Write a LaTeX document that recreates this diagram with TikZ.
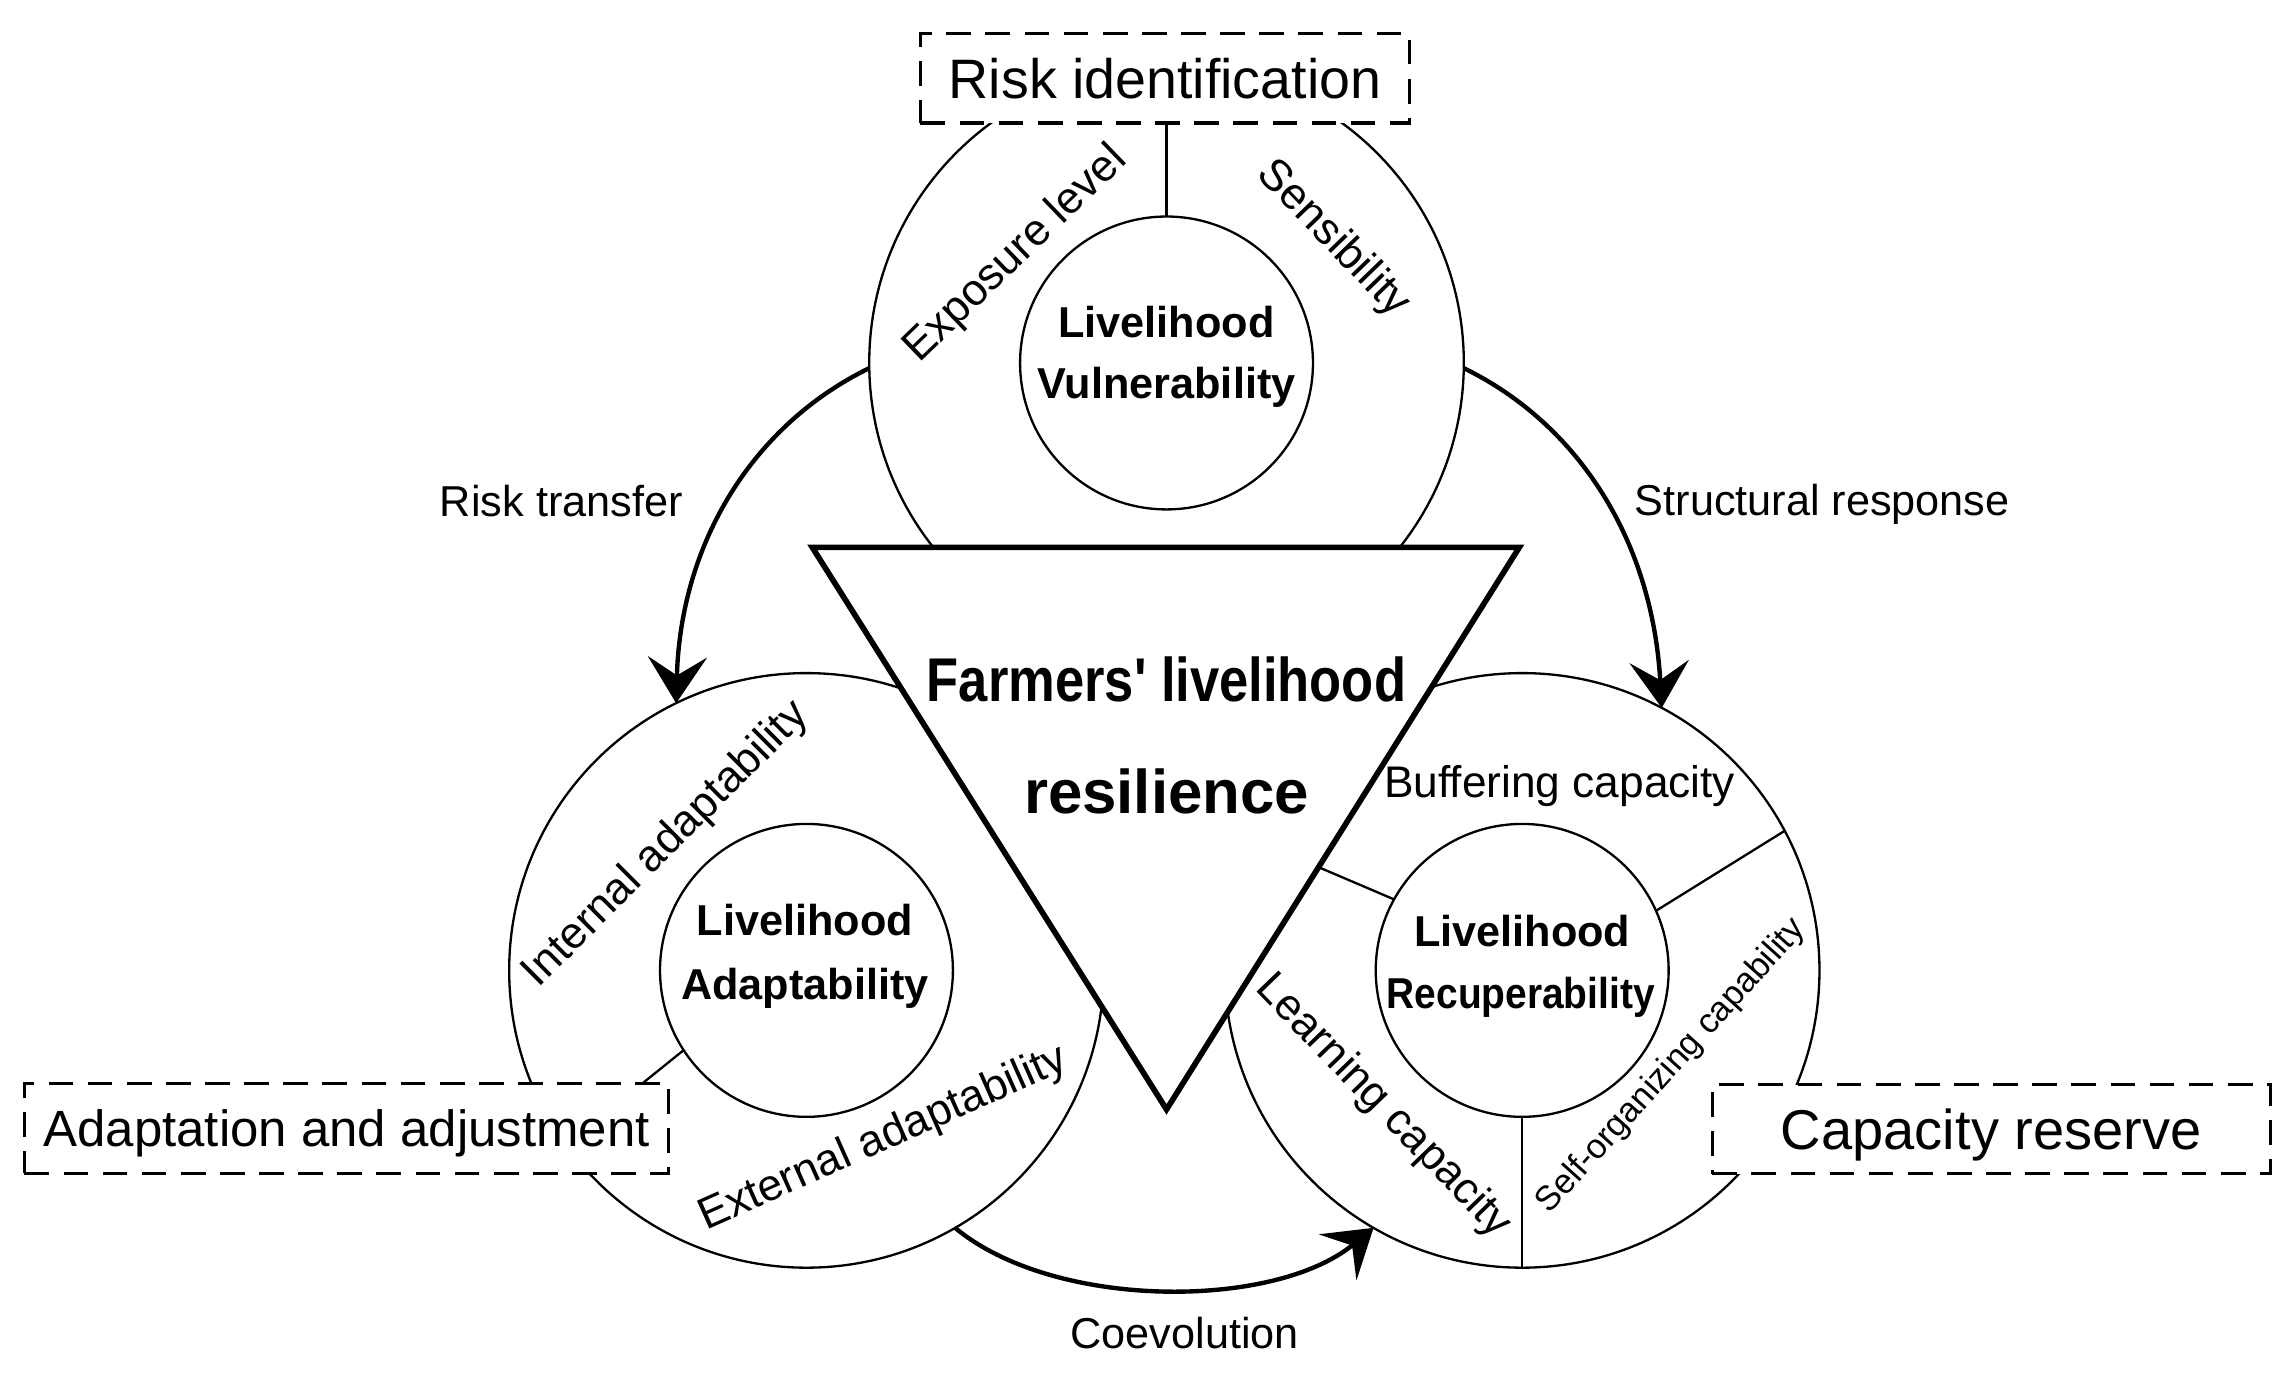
\documentclass[tikz,border=0pt]{standalone}
\usepackage{fontspec}
\setmainfont{Liberation Sans}
\usetikzlibrary{arrows.meta}
\newcommand{\fsz}[1]{\fontsize{#1}{#1}\selectfont}
\begin{document}
\begin{tikzpicture}[x=0.01cm, y=-0.01cm,
  ring/.style={circle, draw, line width=0.45pt, fill=white, minimum size=4.06cm, inner sep=0pt, outer sep=0pt},
  core/.style={circle, draw, line width=0.45pt, fill=white, minimum size=2cm, inner sep=0pt, outer sep=0pt},
  divider/.style={line width=0.45pt},
  ringlbl/.style={font=\fsz{8.6pt}, inner sep=0pt},
  corelbl/.style={font=\bfseries\fsz{8.4pt}, inner sep=0pt, anchor=base},
  stage/.style={draw, dash pattern=on 4.8pt off 2.8pt, line width=0.6pt, fill=white, inner sep=0pt, text depth=0pt},
  flow/.style={line width=0.85pt, -{Stealth[length=9pt,width=11.5pt,inset=3.6pt]}},
  flowlbl/.style={font=\fsz{8.4pt}, inner sep=0pt, anchor=base},
  tri/.style={draw, line width=1.1pt, fill=white, line join=miter},
  title/.style={font=\bfseries\fsz{12pt}, inner sep=0pt, anchor=base}
]
\useasboundingbox (0,0) rectangle (1568,940);

% rings and cores
\node[ring] (tO) at (797,248) {};
\node[core] (tI) at (797,248) {};
\node[ring] (lO) at (551,663) {};
\node[core] (lI) at (551,663) {};
\node[ring] (rO) at (1040,663) {};
\node[core] (rI) at (1040,663) {};

% dividers
\draw[divider] (tI.90) -- (tO.90);
\draw[divider] (lI.213) -- (lO.216);
\draw[divider] (rI.151) -- (rO.154);
\draw[divider] (rI.24) -- (rO.28);
\draw[divider] (rI.270) -- (rO.270);

% core labels
\node[corelbl] (tL1) at (797,230.6) {Livelihood};
\node[corelbl] (tL2) at (797,272) {Vulnerability};
\node[corelbl] (lL1) at (550,639) {Livelihood};
\node[corelbl] (lL2) at (550,683) {Adaptability};
\node[corelbl] (rL1) at (1040,646.7) {Livelihood};
\node[corelbl] (rL2) at (1039,689) {\scalebox{0.9}[1]{Recuperability}};

% ring labels
\node[ringlbl, rotate=44] (expo) at (694,174) {Exposure level};
\node[ringlbl, rotate=-46] (sens) at (911,163.5) {Sensibility};
\node[ringlbl, rotate=45] (inad) at (455.4,577) {Internal adaptability};
\node[ringlbl, rotate=24] (exad) at (603.6,778) {External adaptability};
\node[ringlbl, anchor=base] (buff) at (1065.6,545) {Buffering capacity};
\node[ringlbl, rotate=-46] (lear) at (945,756) {Learning capacity};
\node[ringlbl, rotate=48, font=\fsz{6.7pt}] (self) at (1142,728.7) {Self-organizing capability};

% central triangle
\coordinate (A) at (555,374);
\coordinate (B) at (1038,374);
\coordinate (C) at (797,758);
\draw[tri] (A) -- (B) -- (C) -- cycle;
\node[title] (t1) at (797,479) {\scalebox{0.85}[1]{Farmers\textquotesingle\ livelihood}};
\node[title] (t2) at (797,556) {resilience};

% stage boxes
\node[stage, minimum width=3.34cm, minimum height=0.61cm, font=\fsz{10.8pt}, text height=7.7pt] (risk) at (796,53.5) {Risk identification};
\node[stage, minimum width=4.40cm, minimum height=0.616cm, font=\fsz{9.9pt}, text height=7.1pt] (adapt) at (236.8,770.8) {Adaptation and adjustment};
\node[stage, minimum width=3.81cm, minimum height=0.61cm, font=\fsz{10.9pt}, text height=7.8pt] (reserve) at (1360.5,771.5) {Capacity reserve};

% flows
\draw[flow] (tO.181) .. controls (515,290) and (465,370) .. (lO.116);
\draw[flow] (tO.359) .. controls (1079,290) and (1129,370) .. (rO.62);
\draw[flow] (lO.300) .. controls (720,895) and (870,895) .. (rO.240);

\node[flowlbl] (rtl) at (383.5,353) {Risk transfer};
\node[flowlbl] (srl) at (1245,352) {Structural response};
\node[flowlbl] (col) at (809.5,921) {Coevolution};
\end{tikzpicture}
\end{document}
